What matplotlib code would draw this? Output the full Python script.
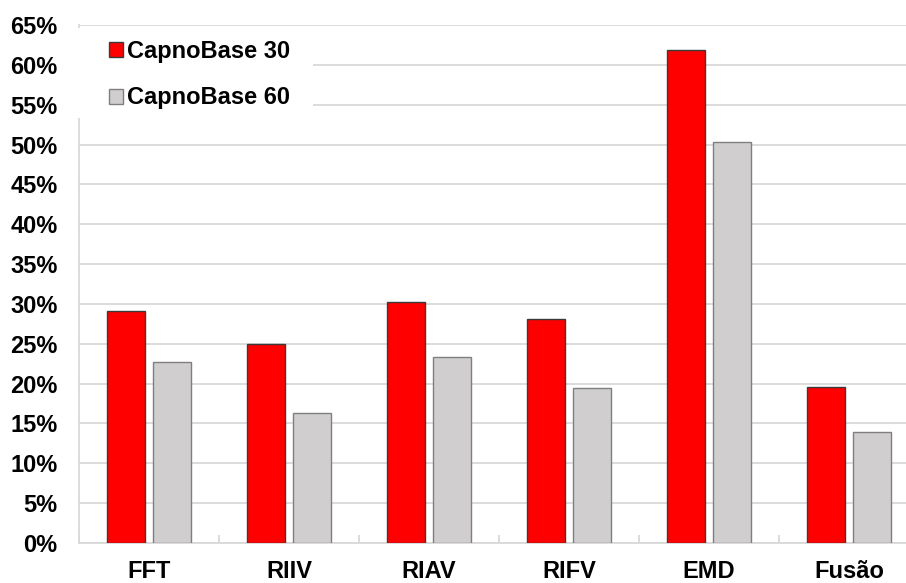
import matplotlib
matplotlib.use("Agg")
import matplotlib.pyplot as plt
from matplotlib.patches import Patch, Rectangle
from matplotlib.ticker import MultipleLocator, FixedLocator, PercentFormatter

plt.rcParams['font.family'] = ['Liberation Sans', 'DejaVu Sans']
plt.rcParams['font.weight'] = 'bold'

categories = ["FFT", "RIIV", "RIAV", "RIFV", "EMD", "Fusão"]
capno30 = [29.1, 25.0, 30.3, 28.1, 61.9, 19.6]
capno60 = [22.7, 16.35, 23.4, 19.4, 50.3, 13.9]
series_names = ["CapnoBase 30", "CapnoBase 60"]

W, H = 906, 583
FS = 17
fig = plt.figure(figsize=(W / 100, H / 100), dpi=100)
ax = fig.add_axes([79 / W, 1 - 543 / H, 840 / W, 518 / H])

x = list(range(len(categories)))
bw = 0.271
off = 0.161
ax.bar([i - off for i in x], capno30, width=bw, color="#ff0000",
       edgecolor="#3a3a3a", linewidth=1.0, zorder=3)
ax.bar([i + off for i in x], capno60, width=bw, color="#d0cece",
       edgecolor="#7f7f7f", linewidth=1.0, zorder=3)

ax.set_xlim(-0.5, len(categories) - 0.5)
ax.set_ylim(0, 65)
ax.yaxis.set_major_locator(MultipleLocator(5))
ax.yaxis.set_major_formatter(PercentFormatter(decimals=0))
ax.yaxis.grid(True, color="#d9d9d9", linewidth=1.3, zorder=0)
ax.set_axisbelow(True)

ax.set_xticks(x)
ax.set_xticklabels(categories)
ax.xaxis.set_minor_locator(FixedLocator([i - 0.5 for i in range(len(categories) + 1)]))
ax.tick_params(axis="x", which="major", length=0, pad=12, labelsize=FS)
ax.tick_params(axis="x", which="minor", direction="in", length=6,
               color="#d9d9d9", width=1.3)
ax.tick_params(axis="y", length=0, pad=15.5, labelsize=FS)
for lab in ax.get_xticklabels() + ax.get_yticklabels():
    lab.set_fontweight("bold")

for side in ("top", "right"):
    ax.spines[side].set_visible(False)
for side in ("left", "bottom"):
    ax.spines[side].set_color("#d9d9d9")
    ax.spines[side].set_linewidth(1.3)

# white backing behind the legend block
fig.add_artist(Rectangle((76 / W, 1 - 118 / H), (313 - 76) / W, (118 - 28) / H,
                         transform=fig.transFigure, facecolor="white",
                         edgecolor="none", zorder=5))

handles = [Patch(facecolor="#ff0000", edgecolor="#3a3a3a", linewidth=1.0),
           Patch(facecolor="#d0cece", edgecolor="#7f7f7f", linewidth=1.0)]
leg = fig.legend(handles, series_names, loc="upper left",
                 bbox_to_anchor=(109 / W, 1 - 40 / H), frameon=False,
                 prop={"size": FS, "weight": "bold"},
                 handlelength=0.6, handleheight=0.6, handletextpad=0.15,
                 labelspacing=0.99, borderpad=0, borderaxespad=0)
leg.set_zorder(10)

fig.savefig("out.png", dpi=100)
